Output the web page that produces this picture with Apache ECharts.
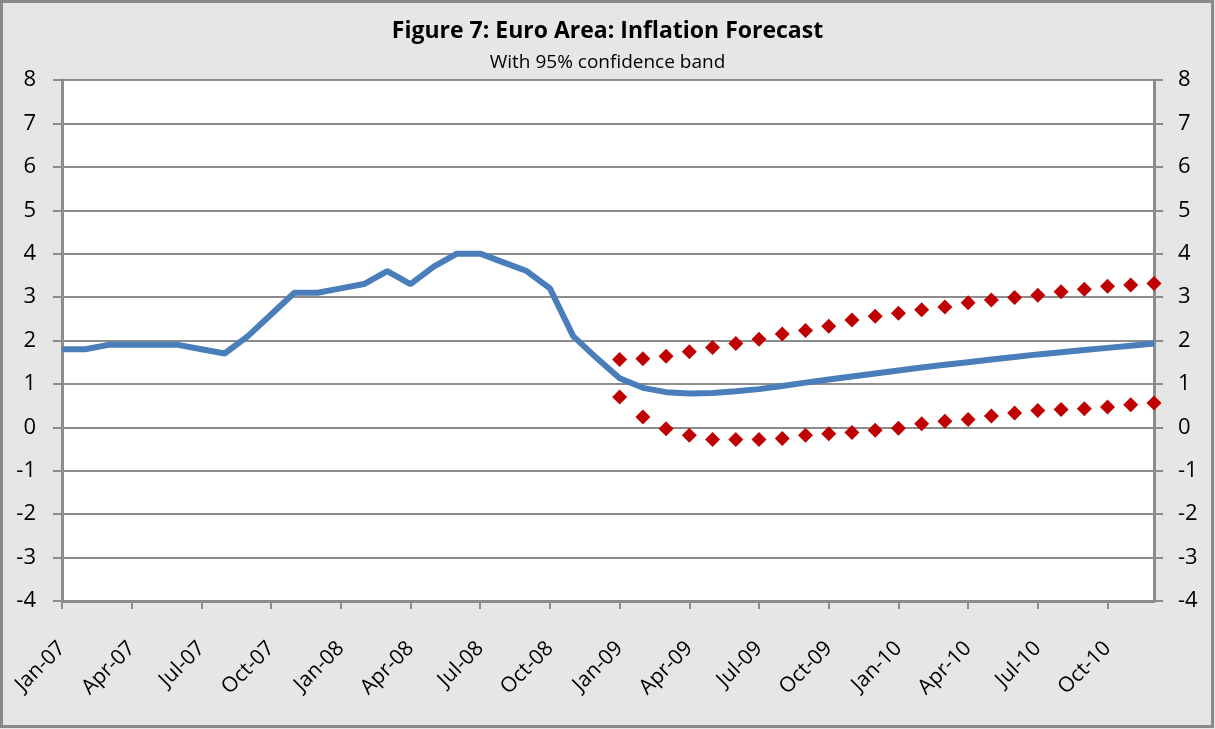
<!DOCTYPE html>
<html>
<head>
<meta charset="utf-8">
<script src="https://cdn.jsdelivr.net/npm/echarts@6/dist/echarts.min.js"></script>
<style>
  html, body { margin: 0; padding: 0; background: #e6e6e6; }
  #chart { width: 1215px; height: 729px; }
</style>
</head>
<body>
<div id="chart"></div>
<script>
// monthly categories, Jan-07 .. Dec-10
var months = [
  'Jan-07', 'Feb-07', 'Mar-07', 'Apr-07', 'May-07', 'Jun-07', 'Jul-07', 'Aug-07', 'Sep-07', 'Oct-07', 'Nov-07', 'Dec-07',
  'Jan-08', 'Feb-08', 'Mar-08', 'Apr-08', 'May-08', 'Jun-08', 'Jul-08', 'Aug-08', 'Sep-08', 'Oct-08', 'Nov-08', 'Dec-08',
  'Jan-09', 'Feb-09', 'Mar-09', 'Apr-09', 'May-09', 'Jun-09', 'Jul-09', 'Aug-09', 'Sep-09', 'Oct-09', 'Nov-09', 'Dec-09',
  'Jan-10', 'Feb-10', 'Mar-10', 'Apr-10', 'May-10', 'Jun-10', 'Jul-10', 'Aug-10', 'Sep-10', 'Oct-10', 'Nov-10', 'Dec-10'
]

// inflation (actual + central forecast)
var inflation = [
  1.8, 1.8, 1.9, 1.9, 1.9, 1.9, 1.8, 1.7, 2.1, 2.6, 3.1, 3.1,
  3.2, 3.3, 3.6, 3.3, 3.7, 4.0, 4.0, 3.8, 3.6, 3.2, 2.1, 1.6,
  1.13, 0.91, 0.81, 0.78, 0.79, 0.83, 0.88, 0.95, 1.03, 1.10, 1.17, 1.24,
  1.31, 1.38, 1.44, 1.50, 1.56, 1.62, 1.68, 1.73, 1.78, 1.83, 1.88, 1.93
]

// 95% band, upper / lower
var upperBand = [
  null, null, null, null, null, null, null, null, null, null, null, null,
  null, null, null, null, null, null, null, null, null, null, null, null,
  1.56, 1.58, 1.64, 1.74, 1.84, 1.93, 2.03, 2.15, 2.23, 2.33, 2.47, 2.56,
  2.63, 2.71, 2.77, 2.87, 2.93, 2.99, 3.04, 3.12, 3.18, 3.25, 3.28, 3.31
]
var lowerBand = [
  null, null, null, null, null, null, null, null, null, null, null, null,
  null, null, null, null, null, null, null, null, null, null, null, null,
  0.70, 0.24, -0.03, -0.18, -0.28, -0.28, -0.28, -0.26, -0.18, -0.15, -0.12, -0.07,
  -0.02, 0.08, 0.14, 0.18, 0.26, 0.33, 0.39, 0.41, 0.43, 0.47, 0.52, 0.56
]

var chart = echarts.init(document.getElementById('chart'))

var valueAxis = {
  type: 'value',
  min: -4,
  max: 8,
  interval: 1,
  axisLine: { show: true, lineStyle: { color: '#8c8c8c', width: 3 } },
  axisTick: { show: true, length: 9, lineStyle: { color: '#8c8c8c', width: 2 } },
  axisLabel: { color: '#000', fontSize: 22, fontFamily: 'Open Sans', margin: 26 },
  splitLine: { show: true, lineStyle: { color: '#8c8c8c', width: 2 } }
}

chart.setOption({
  animation: false,
  backgroundColor: '#e6e6e6',
  title: {
    text: 'Figure 7: Euro Area: Inflation Forecast',
    subtext: 'With 95% confidence band',
    left: 'center',
    top: 15,
    itemGap: 10,
    textStyle: { fontFamily: 'Open Sans', fontWeight: 'bold', fontSize: 23, color: '#000' },
    subtextStyle: { fontFamily: 'Open Sans', fontSize: 19, color: '#000' }
  },
  graphic: [{
    type: 'rect',
    shape: { x: 1.5, y: 1.5, width: 1211, height: 725 },
    style: { fill: null, stroke: '#8a8a8a', lineWidth: 3 },
    silent: true
  }],
  grid: {
    left: 62,
    right: 61,
    top: 80,
    bottom: 128,
    show: true,
    backgroundColor: '#fff',
    borderColor: '#9a9a9a',
    borderWidth: 2
  },
  xAxis: {
    type: 'category',
    data: months,
    boundaryGap: false,
    axisLine: { onZero: false, lineStyle: { color: '#8c8c8c', width: 3 } },
    axisTick: { show: true, interval: 2, length: 8, lineStyle: { color: '#8c8c8c', width: 2 } },
    axisLabel: { interval: 2, rotate: 45, color: '#000', fontSize: 21, fontFamily: 'Open Sans', margin: 44 },
    splitLine: { show: false }
  },
  yAxis: [
    Object.assign({}, valueAxis, { position: 'left' }),
    Object.assign({}, valueAxis, { position: 'right', splitLine: { show: false }, axisLabel: Object.assign({}, valueAxis.axisLabel, { margin: 24 }) })
  ],
  series: [
    {
      name: 'Inflation',
      type: 'line',
      data: inflation,
      showSymbol: false,
      lineStyle: { color: '#4a7ebb', width: 6 },
      itemStyle: { color: '#4a7ebb' },
      z: 3
    },
    {
      name: 'Upper band',
      type: 'line',
      data: upperBand,
      symbol: 'diamond',
      symbolSize: 15,
      lineStyle: { opacity: 0 },
      itemStyle: { color: '#c00000' },
      z: 4
    },
    {
      name: 'Lower band',
      type: 'line',
      data: lowerBand,
      symbol: 'diamond',
      symbolSize: 15,
      lineStyle: { opacity: 0 },
      itemStyle: { color: '#c00000' },
      z: 4
    }
  ]
})
</script>
</body>
</html>
